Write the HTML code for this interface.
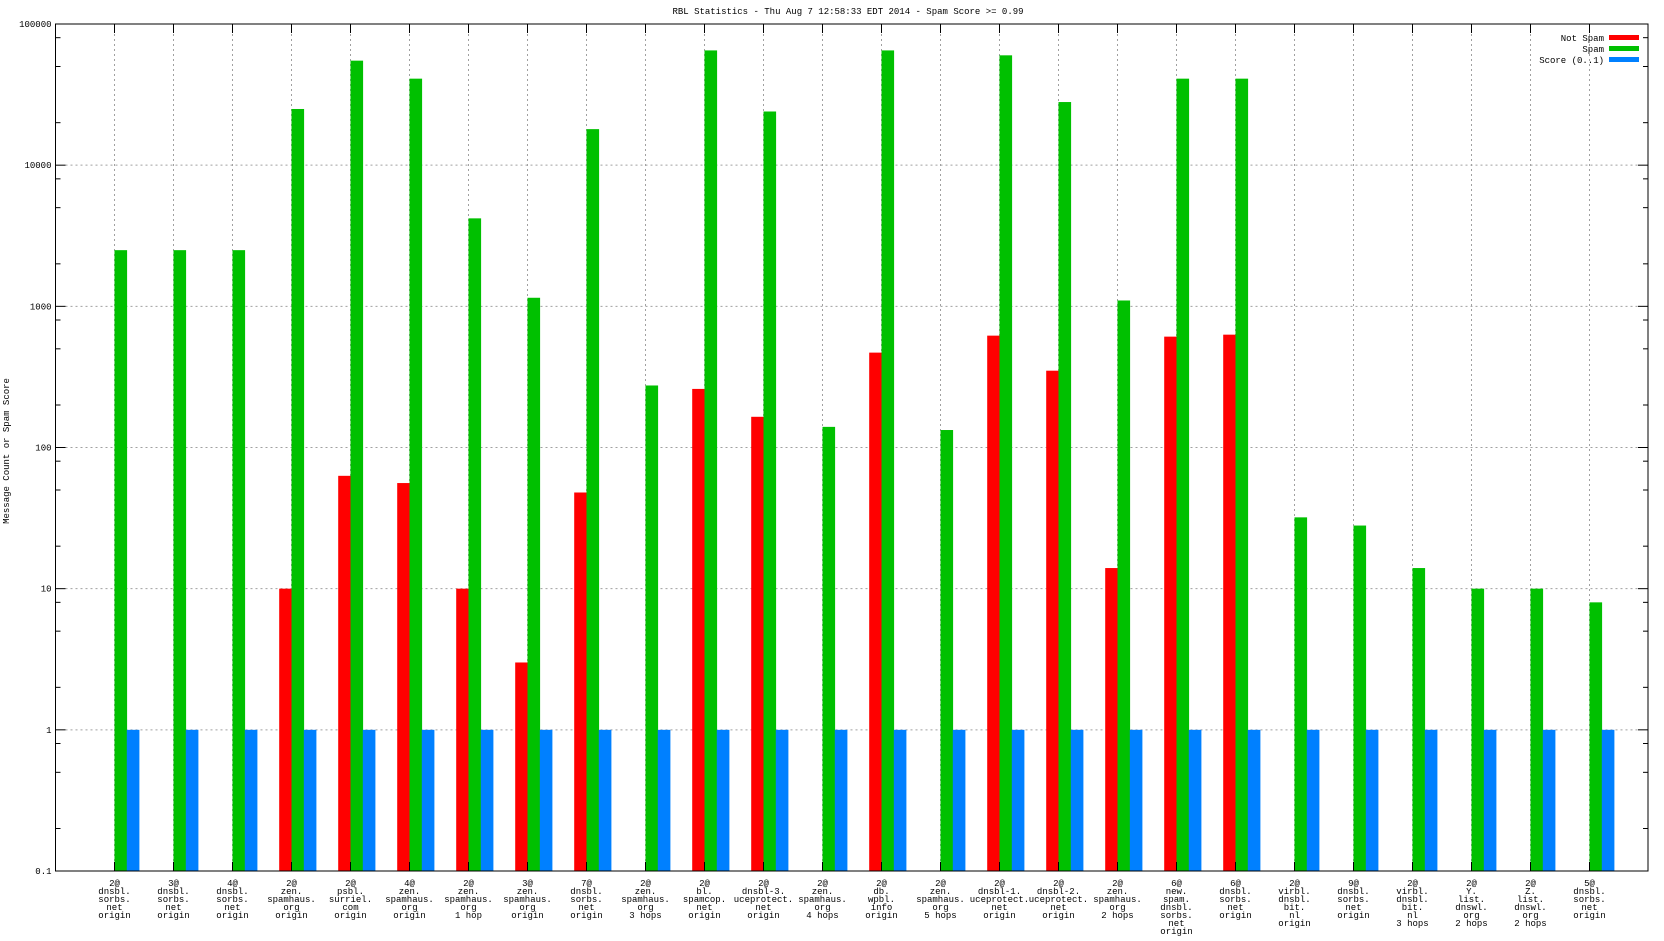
<!DOCTYPE html>
<html><head><meta charset="utf-8"><style>
html,body{margin:0;padding:0;background:#fff}
svg text{font-family:"Liberation Mono","DejaVu Sans Mono",monospace;font-size:9px;fill:#000}
</style></head><body>
<svg id="chart" width="1664" height="936" xmlns="http://www.w3.org/2000/svg">
<text x="848" y="14" text-anchor="middle">RBL Statistics - Thu Aug  7 12:58:33 EDT 2014 - Spam Score &gt;= 0.99</text>
<text transform="translate(9,451) rotate(-90)" text-anchor="middle">Message Count or Spam Score</text>
<g id="grid"></g><g id="bars"></g><g id="axes"></g><g id="labels"></g>
<g>
<text x="1604" y="41" text-anchor="end">Not Spam</text>
<rect x="1609" y="35" width="30" height="5" fill="#ff0000"/>
<text x="1604" y="52" text-anchor="end">Spam</text>
<rect x="1609" y="46" width="30" height="5" fill="#00c000"/>
<text x="1604" y="63" text-anchor="end">Score (0..1)</text>
<rect x="1609" y="57" width="30" height="5" fill="#0080ff"/>
</g>
</svg>
<script>
const categories=[
["2@","dnsbl.","sorbs.","net","origin"],["3@","dnsbl.","sorbs.","net","origin"],["4@","dnsbl.","sorbs.","net","origin"],
["2@","zen.","spamhaus.","org","origin"],["2@","psbl.","surriel.","com","origin"],["4@","zen.","spamhaus.","org","origin"],
["2@","zen.","spamhaus.","org","1 hop"],["3@","zen.","spamhaus.","org","origin"],["7@","dnsbl.","sorbs.","net","origin"],
["2@","zen.","spamhaus.","org","3 hops"],["2@","bl.","spamcop.","net","origin"],["2@","dnsbl-3.","uceprotect.","net","origin"],
["2@","zen.","spamhaus.","org","4 hops"],["2@","db.","wpbl.","info","origin"],["2@","zen.","spamhaus.","org","5 hops"],
["2@","dnsbl-1.","uceprotect.","net","origin"],["2@","dnsbl-2.","uceprotect.","net","origin"],["2@","zen.","spamhaus.","org","2 hops"],
["6@","new.","spam.","dnsbl.","sorbs.","net","origin"],["6@","dnsbl.","sorbs.","net","origin"],["2@","virbl.","dnsbl.","bit.","nl","origin"],
["9@","dnsbl.","sorbs.","net","origin"],["2@","virbl.","dnsbl.","bit.","nl","3 hops"],["2@","Y.","list.","dnswl.","org","2 hops"],
["2@","Z.","list.","dnswl.","org","2 hops"],["5@","dnsbl.","sorbs.","net","origin"]];
const notSpam=[0,0,0,10,63,56,10,3,48,0,260,165,0,470,0,620,350,14,610,630,0,0,0,0,0,0];
const spam=[2500,2500,2500,25000,55000,41000,4200,1150,18000,275,65000,24000,140,65000,133,60000,28000,1100,41000,41000,32,28,14,10,10,8];
const score=[1,1,1,1,1,1,1,1,1,1,1,1,1,1,1,1,1,1,1,1,1,1,1,1,1,1];
const yTicks=[0.1,1,10,100,1000,10000,100000];
const yTickLabels=["0.1","1","10","100","1000","10000","100000"];

const NS="http://www.w3.org/2000/svg";
const L=55.5,R=1648,T=24,B=871;
const yMin=0.1,yMax=100000;
function y(v){return B-(Math.log10(v)-Math.log10(yMin))/(Math.log10(yMax)-Math.log10(yMin))*(B-T);}
function xc(i){return 114.5+i*59;}
const BW=12.3;
function mk(tag,attrs,parent){const e=document.createElementNS(NS,tag);for(const k in attrs)e.setAttribute(k,attrs[k]);parent.appendChild(e);return e;}
const grid=document.getElementById('grid'),bars=document.getElementById('bars'),axes=document.getElementById('axes'),labels=document.getElementById('labels');
// horizontal grid + y ticks
yTicks.forEach((v,i)=>{
  const yy=y(v);
  if(i>0&&i<yTicks.length-1){const g=mk('line',{x1:L+10,x2:R-10,y1:yy,y2:yy,stroke:'#a0a0a0','stroke-dasharray':'2,3'},grid);
  }
  mk('line',{x1:L,x2:L+10,y1:yy,y2:yy,stroke:'#000'},axes);
  mk('line',{x1:R-10,x2:R,y1:yy,y2:yy,stroke:'#000'},axes);
  const t=mk('text',{x:L-4,y:yy+3,'text-anchor':'end'},labels);t.textContent=yTickLabels[i];
  
  if(i<yTicks.length-1){[2,5,8].forEach(m=>{const my=y(v*m);
    mk('line',{x1:L,x2:L+5,y1:my,y2:my,stroke:'#000'},axes);mk('line',{x1:R-5,x2:R,y1:my,y2:my,stroke:'#000'},axes);});}
});
categories.forEach((c,i)=>{
  const x=xc(i);
  const g=mk('line',{x1:x,x2:x,y1:T+10,y2:B-10,stroke:'#a0a0a0','stroke-dasharray':'2,3'},grid);
  
  mk('line',{x1:x,x2:x,y1:T,y2:T+9,stroke:'#000'},axes);
  mk('line',{x1:x,x2:x,y1:B-9,y2:B,stroke:'#000'},axes);
  const series=[[notSpam[i],'#ff0000',x-BW,'bar-not-spam'],[spam[i],'#00c000',x,'bar-spam'],[score[i],'#0080ff',x+BW,'bar-score']];
  series.forEach(s=>{if(s[0]>0){const yy=y(s[0]);
    const r=mk('rect',{x:s[2],y:yy,width:BW+0.3,height:B-yy,fill:s[1]},bars);
    }});
  const t=mk('text',{x:x,y:886,'text-anchor':'middle'},labels);
  
  c.forEach((ln,j)=>{const ts=mk('tspan',{x:x,dy:j?8:0},t);ts.textContent=ln;});
});
const fr=mk('rect',{x:L,y:T,width:R-L,height:B-T,fill:'none',stroke:'#000','stroke-width':1},axes);

</script>
</body></html>
